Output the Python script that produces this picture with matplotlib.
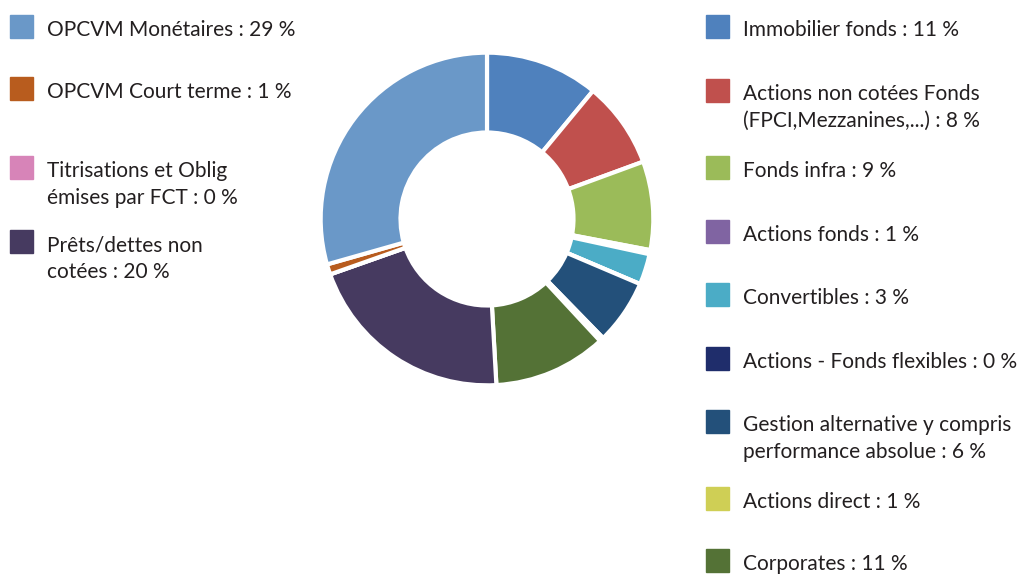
import matplotlib.pyplot as plt

# === données ===
labels = ['Immobilier fonds : 11 %',
          'Actions non cotées Fonds\n(FPCI,Mezzanines,...) : 8 %',
          'Fonds infra : 9 %',
          'Actions fonds : 1 %',
          'Convertibles : 3 %',
          'Actions - Fonds flexibles : 0 %',
          'Gestion alternative y compris\nperformance absolue : 6 %',
          'Actions direct : 1 %',
          'Corporates : 11 %',
          'Prêts/dettes non\ncotées : 20 %',
          'Titrisations et Oblig\némises par FCT : 0 %',
          'OPCVM Court terme : 1 %',
          'OPCVM Monétaires : 29 %']
values = [11.0, 8.4, 8.6, 0.4, 3.0, 0.0, 6.3, 0.4, 11.0, 20.5, 0.0, 1.0, 29.4]
colors = ['#4f81bd', '#c0504d', '#9bbb59', '#8064a2', '#4bacc6', '#1f2d6b',
          '#23507a', '#cfcf55', '#547236', '#463a60', '#d784b8', '#b85c1e',
          '#6a98c8']

# colonne de légende (0 = gauche, 1 = droite) et position verticale du carré (px depuis le haut)
leg_col = [1, 1, 1, 1, 1, 1, 1, 1, 1, 0, 0, 0, 0]
leg_top = [15, 79, 156, 220, 283, 347, 410, 487, 549, 230, 156, 77, 15]

W, H = 1036, 574
fig = plt.figure(figsize=(W / 100, H / 100), dpi=100)
plt.rcParams['font.family'] = ['Lato', 'DejaVu Sans']

# donut
cx, cy, r = 487, 219, 168
ax = fig.add_axes([(cx - r) / W, (H - cy - r) / H, 2 * r / W, 2 * r / H])
ax.pie(values, colors=colors, startangle=90, counterclock=False, radius=1,
       wedgeprops=dict(width=0.48, edgecolor='white', linewidth=3))
ax.set_aspect('equal')
ax.set_xlim(-1.01, 1.01)
ax.set_ylim(-1.01, 1.01)

# légende manuelle
sq = 23
for lab, col, c, top in zip(labels, colors, leg_col, leg_top):
    x0 = 10 if c == 0 else 706
    fig.patches.append(plt.Rectangle((x0 / W, (H - top - sq) / H), sq / W, sq / H,
                                     transform=fig.transFigure, color=col))
    for i, line in enumerate(lab.split('\n')):
        fig.text((x0 + 37) / W, (H - top - 21 - 27 * i) / H, line, ha='left',
                 va='baseline', fontsize=15, color='#231f20')

fig.savefig('out.png', dpi=100)
